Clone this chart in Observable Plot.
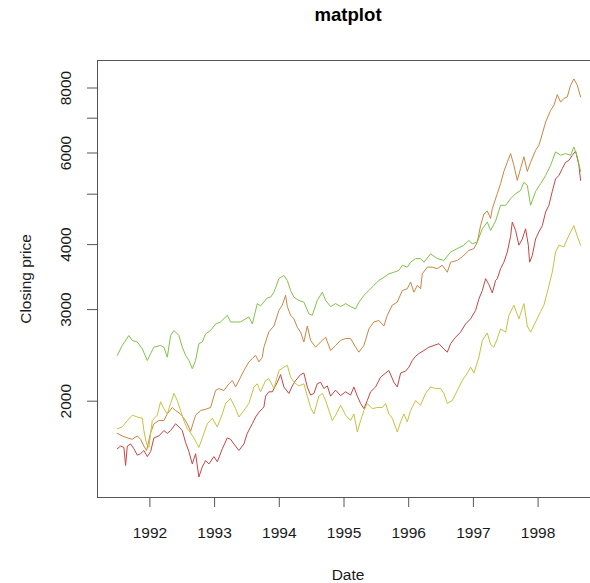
<!DOCTYPE html>
<html>
<head>
<meta charset="utf-8">
<script src="https://cdn.jsdelivr.net/npm/d3@7"></script>
<script src="https://cdn.jsdelivr.net/npm/@observablehq/plot@0.6"></script>
<style>
  html, body { margin: 0; padding: 0; background: #fff; overflow: hidden; }
  #chart { width: 590px; height: 583px; }
</style>
</head>
<body>
<div id="chart"></div>
<script>
// ---- Data ----
const title = "matplot";
const xLabel = "Date";
const yLabel = "Closing price";
const xTickYears = [1992, 1993, 1994, 1995, 1996, 1997, 1998];
const yTicks = [2000, 3000, 4000, 5000, 6000, 7000, 8000];
const yTickLabels = [2000, 3000, 4000, 6000, 8000];

const seriesNames = ["DAX", "SMI", "CAC", "FTSE"];
const seriesColors = ["#C94444", "#CD853F", "#C6C240", "#82C245"];

// [decimal year, closing price]
const dax = [
  [1991.496,1620],[1991.547,1640],[1991.598,1630],[1991.624,1505],[1991.651,1640],[1991.702,1655],
  [1991.753,1620],[1991.805,1575],[1991.856,1585],[1991.907,1608],[1991.960,1565],[1992.011,1600],
  [1992.062,1700],[1992.139,1715],[1992.216,1756],[1992.269,1735],[1992.320,1756],[1992.397,1810],
  [1992.448,1785],[1992.501,1756],[1992.552,1665],[1992.603,1600],[1992.655,1515],[1992.706,1585],
  [1992.757,1430],[1992.810,1495],[1992.861,1538],[1992.912,1515],[1992.989,1565],[1993.042,1530],
  [1993.119,1620],[1993.196,1700],[1993.247,1690],[1993.298,1655],[1993.376,1608],[1993.453,1655],
  [1993.505,1735],[1993.583,1810],[1993.634,1865],[1993.685,1905],[1993.737,1935],[1993.762,1950],
  [1993.788,2045],[1993.839,2085],[1993.892,2085],[1993.969,2175],[1994.020,2250],[1994.071,2130],
  [1994.148,2070],[1994.201,2140],[1994.252,2192],[1994.329,2250],[1994.380,2265],[1994.433,2130],
  [1994.484,2055],[1994.535,2070],[1994.587,2160],[1994.638,2175],[1994.689,2115],[1994.742,2140],
  [1994.793,2045],[1994.870,2100],[1994.947,2050],[1995.025,2085],[1995.102,2055],[1995.153,2130],
  [1995.206,2045],[1995.257,1980],[1995.308,1935],[1995.360,2006],[1995.411,2085],[1995.488,2130],
  [1995.566,2225],[1995.643,2265],[1995.694,2291],[1995.771,2175],[1995.824,2130],[1995.875,2265],
  [1995.952,2285],[1996.003,2325],[1996.056,2395],[1996.107,2440],[1996.158,2470],[1996.235,2503],
  [1996.312,2540],[1996.389,2560],[1996.467,2580],[1996.544,2520],[1996.597,2485],[1996.648,2580],
  [1996.725,2655],[1996.802,2715],[1996.879,2815],[1996.957,2880],[1997.034,2989],[1997.085,3145],
  [1997.138,3265],[1997.189,3440],[1997.240,3350],[1997.292,3230],[1997.343,3413],[1997.369,3440],
  [1997.420,3595],[1997.471,3700],[1997.524,3870],[1997.575,4150],[1997.601,4420],[1997.652,4259],
  [1997.703,3990],[1997.756,4100],[1997.807,4290],[1997.849,3990],[1997.869,3700],[1997.910,3810],
  [1997.961,4100],[1998.012,4230],[1998.065,4350],[1998.116,4620],[1998.167,4760],[1998.219,5060],
  [1998.270,5350],[1998.321,5430],[1998.374,5600],[1998.425,5760],[1998.476,5806],[1998.529,5940],
  [1998.580,6050],[1998.631,5680],[1998.657,5314]
];

const smi = [
  [1991.496,1735],[1991.573,1715],[1991.651,1700],[1991.728,1690],[1991.805,1715],[1991.856,1690],
  [1991.907,1640],[1991.949,1608],[1992.011,1740],[1992.062,1810],[1992.139,1836],[1992.216,1836],
  [1992.269,1890],[1992.346,1945],[1992.397,1919],[1992.474,1890],[1992.525,1855],[1992.578,1810],
  [1992.629,1750],[1992.706,1880],[1992.784,1919],[1992.861,1930],[1992.938,1945],[1993.015,2097],
  [1993.066,2115],[1993.144,2097],[1993.221,2160],[1993.274,2192],[1993.325,2130],[1993.402,2225],
  [1993.453,2291],[1993.530,2380],[1993.583,2415],[1993.634,2450],[1993.685,2380],[1993.737,2430],
  [1993.762,2540],[1993.839,2720],[1993.917,2790],[1993.994,2989],[1994.046,3060],[1994.097,3195],
  [1994.124,3040],[1994.175,2925],[1994.226,2880],[1994.278,2775],[1994.329,2715],[1994.380,2600],
  [1994.433,2790],[1994.484,2617],[1994.561,2540],[1994.638,2600],[1994.716,2655],[1994.793,2503],
  [1994.870,2560],[1994.947,2617],[1995.025,2640],[1995.102,2640],[1995.179,2540],[1995.230,2485],
  [1995.308,2560],[1995.385,2755],[1995.462,2840],[1995.539,2859],[1995.617,2790],[1995.669,2925],
  [1995.746,3060],[1995.824,3100],[1995.901,3265],[1995.978,3290],[1996.029,3390],[1996.080,3240],
  [1996.133,3340],[1996.184,3290],[1996.210,3515],[1996.287,3620],[1996.365,3620],[1996.442,3595],
  [1996.519,3650],[1996.597,3540],[1996.648,3700],[1996.751,3730],[1996.828,3790],[1996.930,3898],
  [1997.008,3930],[1997.060,4045],[1997.111,4350],[1997.162,4580],[1997.215,4640],[1997.266,4490],
  [1997.292,4690],[1997.369,5010],[1997.420,5240],[1997.471,5530],[1997.524,5760],[1997.575,5985],
  [1997.626,5680],[1997.678,5314],[1997.729,5600],[1997.781,5900],[1997.833,5530],[1997.884,5760],
  [1997.961,6069],[1998.012,6205],[1998.065,6530],[1998.116,6880],[1998.193,7245],[1998.244,7410],
  [1998.297,7770],[1998.348,7515],[1998.399,7640],[1998.451,7690],[1998.502,8100],[1998.553,8330],
  [1998.606,8100],[1998.657,7690]
];

const cac = [
  [1991.496,1770],[1991.573,1785],[1991.651,1836],[1991.728,1880],[1991.805,1865],[1991.883,1855],
  [1991.907,1756],[1991.949,1655],[1991.985,1630],[1992.037,1836],[1992.114,1880],[1992.165,1995],
  [1992.216,1935],[1992.269,1890],[1992.320,1980],[1992.371,2070],[1992.423,2006],[1992.474,1919],
  [1992.525,1836],[1992.578,1770],[1992.603,1756],[1992.680,1700],[1992.757,1630],[1992.810,1700],
  [1992.887,1810],[1992.964,1855],[1993.042,1785],[1993.119,1890],[1993.170,1980],[1993.247,2025],
  [1993.325,1935],[1993.376,1865],[1993.453,1919],[1993.530,1980],[1993.607,2130],[1993.660,2160],
  [1993.711,2085],[1993.788,2192],[1993.839,2210],[1993.917,2115],[1993.994,2291],[1994.071,2325],
  [1994.124,2345],[1994.175,2225],[1994.226,2175],[1994.303,2140],[1994.380,2160],[1994.433,2045],
  [1994.484,1945],[1994.535,1890],[1994.612,2045],[1994.665,2070],[1994.716,2006],[1994.767,1919],
  [1994.819,1836],[1994.870,1880],[1994.947,1965],[1995.025,1880],[1995.102,1836],[1995.153,1890],
  [1995.206,1745],[1995.257,1836],[1995.308,1919],[1995.360,1980],[1995.437,1935],[1995.515,1945],
  [1995.592,1945],[1995.643,1980],[1995.694,1890],[1995.746,1855],[1995.824,1745],[1995.875,1825],
  [1995.926,1890],[1995.978,1825],[1996.029,1919],[1996.107,2006],[1996.184,1965],[1996.261,2070],
  [1996.338,2130],[1996.416,2115],[1996.493,2115],[1996.544,2070],[1996.597,1980],[1996.674,2006],
  [1996.751,2097],[1996.828,2192],[1996.906,2265],[1996.957,2325],[1997.008,2265],[1997.085,2430],
  [1997.138,2617],[1997.215,2705],[1997.266,2570],[1997.317,2540],[1997.369,2640],[1997.420,2755],
  [1997.498,2715],[1997.549,2925],[1997.626,3060],[1997.703,2880],[1997.781,3080],[1997.833,2790],
  [1997.884,2715],[1997.961,2840],[1998.039,2975],[1998.090,3060],[1998.142,3240],[1998.219,3540],
  [1998.270,3870],[1998.321,3990],[1998.399,3960],[1998.451,4100],[1998.502,4230],[1998.553,4350],
  [1998.606,4150],[1998.657,3990]
];

const ftse = [
  [1991.496,2450],[1991.573,2560],[1991.675,2675],[1991.728,2617],[1991.805,2600],[1991.883,2520],
  [1991.960,2395],[1992.011,2470],[1992.062,2540],[1992.165,2560],[1992.216,2540],[1992.269,2430],
  [1992.320,2675],[1992.371,2735],[1992.448,2675],[1992.501,2540],[1992.552,2450],[1992.603,2395],
  [1992.655,2310],[1992.706,2395],[1992.757,2580],[1992.810,2600],[1992.861,2695],[1992.938,2735],
  [1993.015,2815],[1993.093,2840],[1993.196,2925],[1993.247,2840],[1993.325,2840],[1993.402,2840],
  [1993.479,2880],[1993.530,2905],[1993.583,2815],[1993.660,3080],[1993.711,3050],[1993.815,3160],
  [1993.866,3170],[1993.917,3240],[1993.994,3440],[1994.071,3490],[1994.124,3413],[1994.175,3265],
  [1994.226,3170],[1994.303,3124],[1994.380,3100],[1994.457,2945],[1994.510,2925],[1994.587,3124],
  [1994.665,3240],[1994.716,3124],[1994.793,3040],[1994.870,3080],[1994.947,3040],[1995.025,3080],
  [1995.102,3040],[1995.179,3010],[1995.230,3100],[1995.308,3195],[1995.385,3265],[1995.462,3340],
  [1995.539,3413],[1995.617,3460],[1995.694,3515],[1995.771,3540],[1995.849,3568],[1995.901,3650],
  [1995.978,3620],[1996.029,3700],[1996.107,3760],[1996.184,3760],[1996.235,3700],[1996.338,3840],
  [1996.442,3760],[1996.544,3730],[1996.648,3870],[1996.751,3930],[1996.853,3990],[1996.930,4074],
  [1996.983,4015],[1997.060,4045],[1997.138,4290],[1997.215,4420],[1997.266,4259],[1997.343,4440],
  [1997.420,4760],[1997.498,4760],[1997.575,4900],[1997.652,5010],[1997.729,5084],[1997.781,5270],
  [1997.833,5200],[1997.884,4760],[1997.961,5060],[1998.039,5240],[1998.116,5430],[1998.193,5680],
  [1998.270,6030],[1998.348,5940],[1998.425,5985],[1998.502,5940],[1998.553,6160],[1998.606,5900],
  [1998.657,5530]
];

const seriesData = [dax, smi, cac, ftse];

// ---- Chart ----
const font = "'Liberation Sans', Arial, Helvetica, sans-serif";
const textColor = "#1a1a1a";
const axisColor = "#555";

const lineMarks = seriesData.map((s, i) =>
  Plot.line(s, {x: d => d[0], y: d => d[1], stroke: seriesColors[i], strokeWidth: 1})
);

const chart = Plot.plot({
  width: 590,
  height: 583,
  marginLeft: 97,
  marginRight: 0,
  marginTop: 60,
  marginBottom: 86,
  style: {fontFamily: font, fontSize: "15.5px", background: "#fff", color: textColor, overflow: "hidden"},
  x: {domain: [1991.19, 1998.81]},
  y: {type: "log", domain: [1305.9, 9036]},
  marks: [
    ...lineMarks,
    Plot.frame({anchor: "top", stroke: axisColor}),
    Plot.frame({anchor: "left", stroke: axisColor}),
    Plot.frame({anchor: "bottom", stroke: axisColor}),
    Plot.axisX({ticks: xTickYears, tickSize: 10, tickFormat: () => "", label: null, stroke: axisColor}),
    Plot.axisY({ticks: yTicks, tickSize: 10, tickFormat: () => "", label: null, stroke: axisColor}),
    Plot.text(xTickYears, {x: d => d, frameAnchor: "bottom", dy: 35.5, lineAnchor: "middle",
      text: d => String(d), fontSize: 15.5, fill: textColor}),
    Plot.text(yTickLabels, {y: d => d, frameAnchor: "left", dx: -31, rotate: -90, lineAnchor: "middle",
      textAnchor: "middle", text: d => String(d), fontSize: 15.5, fill: textColor}),
    Plot.text([title], {frameAnchor: "top", dy: -45, dx: 4, lineAnchor: "middle", fontWeight: "bold",
      fontSize: 18.6, fill: "#000", text: d => d}),
    Plot.text([xLabel], {frameAnchor: "bottom", dy: 78, dx: 4, lineAnchor: "middle",
      fontSize: 15.5, fill: textColor, text: d => d}),
    Plot.text([yLabel], {frameAnchor: "left", dx: -71, rotate: -90, lineAnchor: "middle",
      textAnchor: "middle", fontSize: 15.5, fill: textColor, text: d => d})
  ]
});

document.getElementById("chart").appendChild(chart);
</script>
</body>
</html>
